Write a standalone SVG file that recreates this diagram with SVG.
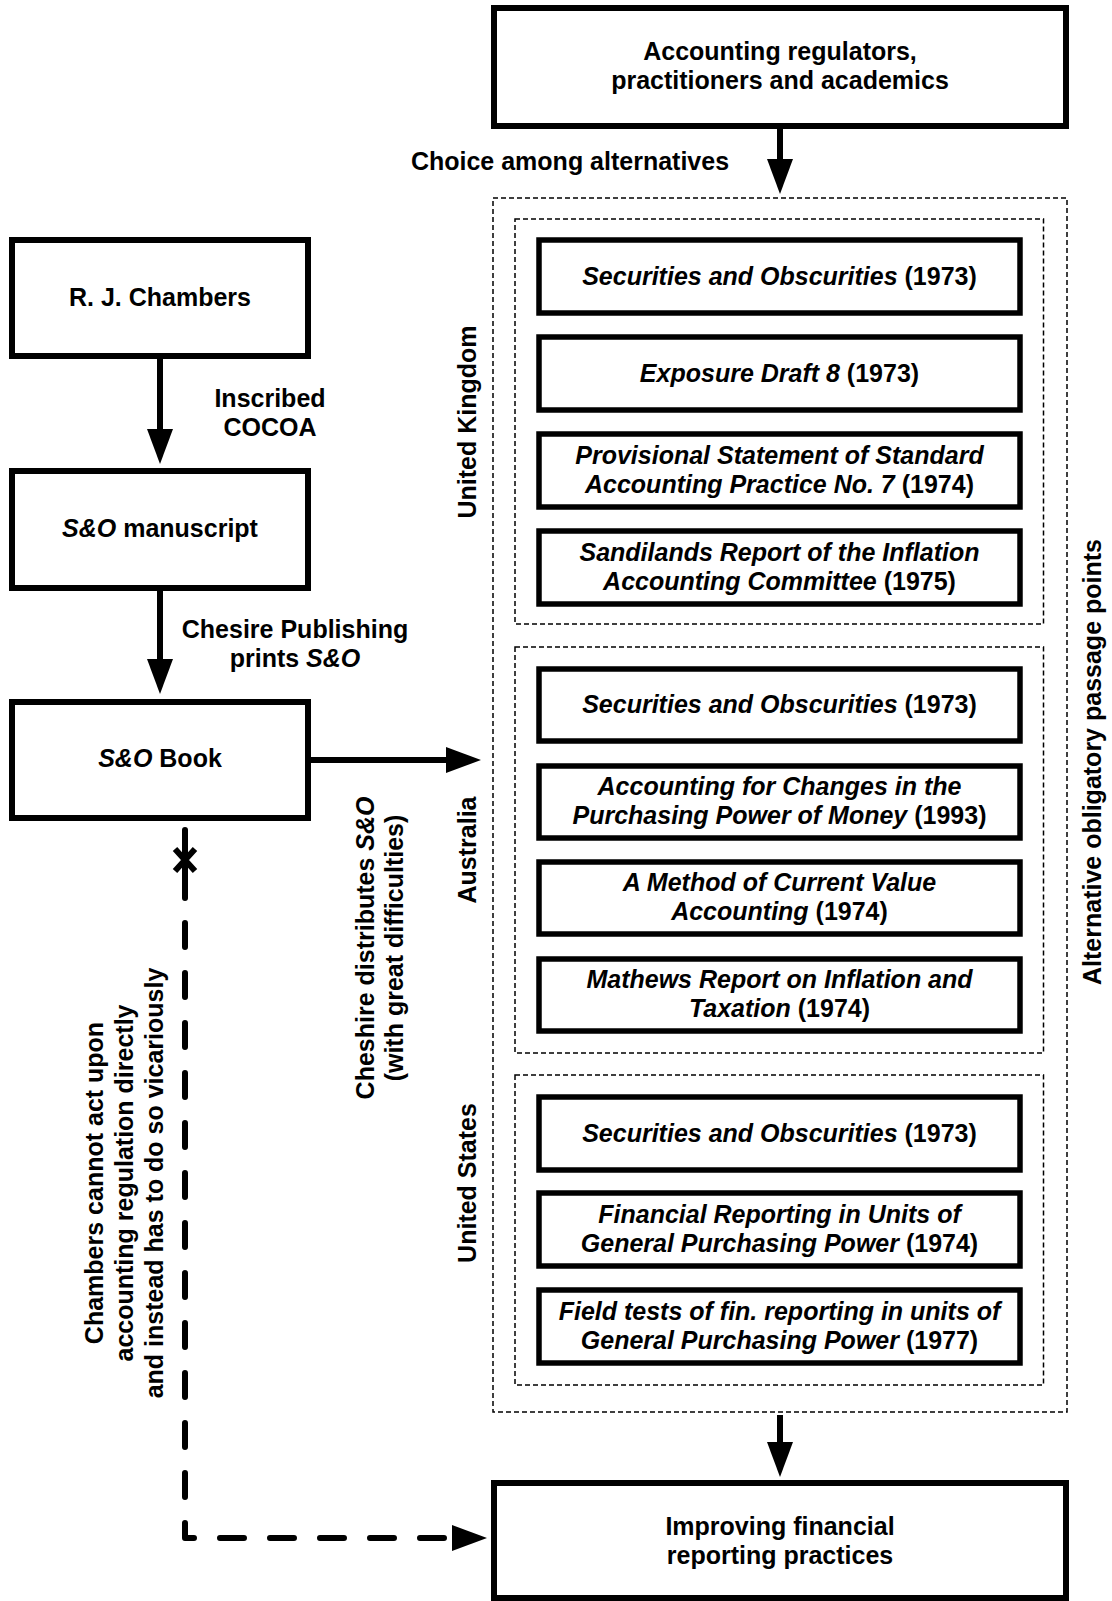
<svg xmlns="http://www.w3.org/2000/svg" width="1112" height="1601" viewBox="0 0 1112 1601">
  <style>
    .box { fill: #fff; stroke: #000; stroke-width: 6; }
    .opp { fill: #fff; stroke: #000; stroke-width: 5.5; }
    .grp { fill: none; stroke: #000; stroke-width: 1.5; stroke-dasharray: 5 3; }
    .t { font-family: "Liberation Sans", Arial, Helvetica, sans-serif; font-weight: bold; font-size: 25px; fill: #000; text-anchor: middle; }
    .i { font-style: italic; }
    .flow { fill: none; stroke: #000; stroke-width: 6; }
    .dash { stroke-dasharray: 24 26; stroke-linecap: round; stroke-linejoin: round; }
  </style>
  <defs>
    <marker id="arrow" markerUnits="userSpaceOnUse" viewBox="0 0 35 26" markerWidth="35" markerHeight="26" refX="18" refY="13" orient="auto">
      <path d="M0,0 L35,13 L0,26 z" fill="#000" stroke="none"/>
    </marker>
  </defs>

  <rect width="1112" height="1601" fill="#fff"/>

  <!-- grouping frames -->
  <g id="opp-frame">
    <rect class="grp" x="493" y="198" width="574" height="1214"/>
    <text class="t" transform="translate(1101,762) rotate(-90)">Alternative obligatory passage points</text>
  </g>
  <g id="uk-frame">
    <rect class="grp" x="515" y="219" width="528.5" height="405"/>
    <text class="t" transform="translate(476,422) rotate(-90)">United Kingdom</text>
  </g>
  <g id="au-frame">
    <rect class="grp" x="515" y="647" width="528.5" height="406"/>
    <text class="t" transform="translate(476,850) rotate(-90)">Australia</text>
  </g>
  <g id="us-frame">
    <rect class="grp" x="515" y="1075" width="528.5" height="310"/>
    <text class="t" transform="translate(476,1183) rotate(-90)">United States</text>
  </g>

  <!-- main nodes -->
  <g id="regulators">
    <rect class="box" x="494" y="8" width="572" height="118"/>
    <text class="t" x="780" y="60">Accounting regulators,</text>
    <text class="t" x="780" y="89">practitioners and academics</text>
  </g>
  <g id="chambers">
    <rect class="box" x="12" y="240" width="296" height="116"/>
    <text class="t" x="160" y="306">R. J. Chambers</text>
  </g>
  <g id="manuscript">
    <rect class="box" x="12" y="471" width="296" height="117"/>
    <text class="t" x="160" y="537"><tspan class="i">S&amp;O</tspan> manuscript</text>
  </g>
  <g id="book">
    <rect class="box" x="12" y="702" width="296" height="116"/>
    <text class="t" x="160" y="767"><tspan class="i">S&amp;O</tspan> Book</text>
  </g>
  <g id="improving">
    <rect class="box" x="494" y="1483" width="572" height="115"/>
    <text class="t" x="780" y="1535">Improving financial</text>
    <text class="t" x="780" y="1564">reporting practices</text>
  </g>

  <!-- United Kingdom publications -->
  <g id="uk-so">
    <rect class="opp" x="539" y="240" width="481" height="73"/>
    <text class="t" x="779.5" y="284.5"><tspan class="i">Securities and Obscurities</tspan> (1973)</text>
  </g>
  <g id="uk-ed8">
    <rect class="opp" x="539" y="337" width="481" height="73"/>
    <text class="t" x="779.5" y="381.5"><tspan class="i">Exposure Draft 8</tspan> (1973)</text>
  </g>
  <g id="uk-pssap7">
    <rect class="opp" x="539" y="434" width="481" height="73"/>
    <text class="t" x="779.5" y="463.5"><tspan class="i">Provisional Statement of Standard</tspan></text>
    <text class="t" x="779.5" y="492.5"><tspan class="i">Accounting Practice No. 7</tspan> (1974)</text>
  </g>
  <g id="uk-sandilands">
    <rect class="opp" x="539" y="531" width="481" height="73"/>
    <text class="t" x="779.5" y="560.5"><tspan class="i">Sandilands Report of the Inflation</tspan></text>
    <text class="t" x="779.5" y="589.5"><tspan class="i">Accounting Committee</tspan> (1975)</text>
  </g>

  <!-- Australian publications -->
  <g id="au-so">
    <rect class="opp" x="539" y="669" width="481" height="72"/>
    <text class="t" x="779.5" y="713"><tspan class="i">Securities and Obscurities</tspan> (1973)</text>
  </g>
  <g id="au-ppm">
    <rect class="opp" x="539" y="766" width="481" height="72"/>
    <text class="t" x="779.5" y="795"><tspan class="i">Accounting for Changes in the</tspan></text>
    <text class="t" x="779.5" y="824"><tspan class="i">Purchasing Power of Money</tspan> (1993)</text>
  </g>
  <g id="au-cva">
    <rect class="opp" x="539" y="862" width="481" height="72"/>
    <text class="t" x="779.5" y="891"><tspan class="i">A Method of Current Value</tspan></text>
    <text class="t" x="779.5" y="920"><tspan class="i">Accounting</tspan> (1974)</text>
  </g>
  <g id="au-mathews">
    <rect class="opp" x="539" y="959" width="481" height="72"/>
    <text class="t" x="779.5" y="988"><tspan class="i">Mathews Report on Inflation and</tspan></text>
    <text class="t" x="779.5" y="1017"><tspan class="i">Taxation</tspan> (1974)</text>
  </g>

  <!-- United States publications -->
  <g id="us-so">
    <rect class="opp" x="539" y="1097" width="481" height="73"/>
    <text class="t" x="779.5" y="1141.5"><tspan class="i">Securities and Obscurities</tspan> (1973)</text>
  </g>
  <g id="us-gpp">
    <rect class="opp" x="539" y="1193" width="481" height="73"/>
    <text class="t" x="779.5" y="1222.5"><tspan class="i">Financial Reporting in Units of</tspan></text>
    <text class="t" x="779.5" y="1251.5"><tspan class="i">General Purchasing Power</tspan> (1974)</text>
  </g>
  <g id="us-fieldtests">
    <rect class="opp" x="539" y="1290" width="481" height="73"/>
    <text class="t" x="779.5" y="1319.5"><tspan class="i">Field tests of fin. reporting in units of</tspan></text>
    <text class="t" x="779.5" y="1348.5"><tspan class="i">General Purchasing Power</tspan> (1977)</text>
  </g>

  <!-- connectors and their labels -->
  <g id="connectors">
    <path class="flow" d="M780,129 V177" marker-end="url(#arrow)"/>
    <text class="t" x="570" y="170">Choice among alternatives</text>

    <path class="flow" d="M160,359 V447" marker-end="url(#arrow)"/>
    <text class="t" x="270" y="407">Inscribed</text>
    <text class="t" x="270" y="436">COCOA</text>

    <path class="flow" d="M160,591 V677" marker-end="url(#arrow)"/>
    <text class="t" x="295" y="638">Chesire Publishing</text>
    <text class="t" x="295" y="667">prints <tspan class="i">S&amp;O</tspan></text>

    <path class="flow" d="M311,760 H464" marker-end="url(#arrow)"/>
    <text class="t" transform="translate(374,948) rotate(-90)">Cheshire distributes <tspan class="i">S&amp;O</tspan><tspan x="0" dy="29">(with great difficulties)</tspan></text>

    <path class="flow" d="M780,1415 V1460" marker-end="url(#arrow)"/>

    <!-- blocked direct route from the book -->
    <path class="flow" d="M185,830 V898" stroke-linecap="round"/>
    <path class="flow" d="M175,849 L195,871 M195,849 L175,871" stroke-width="5"/>
    <path class="flow dash" d="M185,923 V1538 H470" marker-end="url(#arrow)"/>
    <text class="t" transform="translate(103,1183) rotate(-90)">Chambers cannot act upon<tspan x="0" dy="30">accounting regulation directly</tspan><tspan x="0" dy="30">and instead has to do so vicariously</tspan></text>
  </g>
</svg>
